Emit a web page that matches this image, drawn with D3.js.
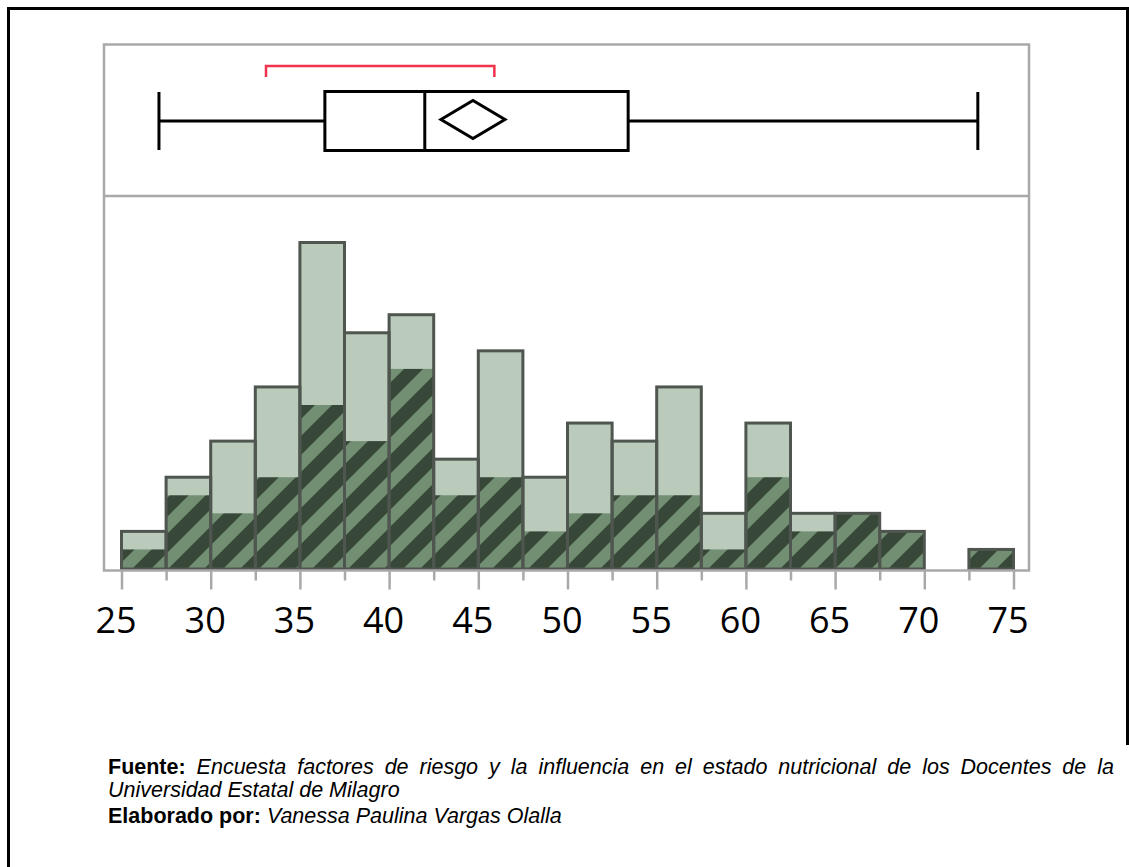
<!DOCTYPE html>
<html>
<head>
<meta charset="utf-8">
<script src="https://cdn.jsdelivr.net/npm/d3@7"></script>
<style>
  html, body { margin: 0; padding: 0; background: #fff; }
  svg { display: block; }
</style>
</head>
<body>
<svg id="chart" width="1129" height="867"></svg>
<script>
// ---- data ----
const binStarts = [25, 27.5, 30, 32.5, 35, 37.5, 40, 42.5, 45, 47.5, 50, 52.5, 55, 57.5, 60, 62.5, 65, 67.5, 70, 72.5];
const binWidth = 2.5;
const totalCounts  = [2, 5, 7, 10, 18, 13, 14, 6, 12, 5, 8, 7, 10, 3, 8, 3, 3, 2, 0, 1];
const subsetCounts = [1, 4, 3, 5, 9, 7, 11, 4, 5, 2, 3, 4, 4, 1, 5, 2, 3, 2, 0, 1];
const majorTicks = [25, 30, 35, 40, 45, 50, 55, 60, 65, 70, 75];
const minorTicks = [27.5, 32.5, 37.5, 42.5, 47.5, 52.5, 57.5, 62.5, 67.5, 72.5];
const boxStats = { min: 27.1, q1: 36.4, median: 42.0, mean: 44.7, q3: 53.4, max: 73.0 };
const shortestHalf = [33.1, 45.9];
const sourceLabel = "Fuente:";
const sourceText = ["Encuesta factores de riesgo y la influencia en el estado nutricional de los Docentes de la", "Universidad Estatal de Milagro"];
const authorLabel = "Elaborado por:";
const authorText = "Vanessa Paulina Vargas Olalla";

// ---- drawing ----
const svg = d3.select("#chart");
const frame = { left: 104, right: 1029, top: 44.5, divider: 196, bottom: 570.5 };

const x = d3.scaleLinear().domain([25, 75]).range([121.5, 1013.5]);
const y = d3.scaleLinear().domain([0, 18]).range([567.5, 242.5]);

// hatch pattern
const defs = svg.append("defs");
const pat = defs.append("pattern")
  .attr("id", "hatch").attr("patternUnits", "userSpaceOnUse")
  .attr("width", 36).attr("height", 36);
pat.append("rect").attr("width", 36).attr("height", 36).attr("fill", "#738f73");
pat.append("path")
  .attr("d", "M0,17 L17,0 L36,0 L0,36 Z M17,36 L36,17 L36,36 Z")
  .attr("fill", "#384838");

// outer page border
svg.append("path")
  .attr("d", "M8.5,867 V8.5 H1127.5 V745")
  .attr("fill", "none").attr("stroke", "#000").attr("stroke-width", 3);

// bars
const bars = svg.append("g");
binStarts.forEach((b, i) => {
  const x0 = x(b), x1 = x(b + binWidth);
  if (totalCounts[i] > 0) {
    bars.append("rect")
      .attr("x", x0).attr("y", y(totalCounts[i]))
      .attr("width", x1 - x0).attr("height", y(0) - y(totalCounts[i]) + 1.5)
      .attr("fill", "#bacbbb");
  }
  if (subsetCounts[i] > 0) {
    bars.append("rect")
      .attr("x", x0).attr("y", y(subsetCounts[i]))
      .attr("width", x1 - x0).attr("height", y(0) - y(subsetCounts[i]) + 1.5)
      .attr("fill", "url(#hatch)");
  }
});
binStarts.forEach((b, i) => {
  const x0 = x(b), x1 = x(b + binWidth);
  if (totalCounts[i] > 0) {
    bars.append("rect")
      .attr("x", x0).attr("y", y(totalCounts[i]))
      .attr("width", x1 - x0).attr("height", y(0) - y(totalCounts[i]) + 1.5)
      .attr("fill", "none").attr("stroke", "#4f564f").attr("stroke-width", 3);
  }
});

// frame
svg.append("rect")
  .attr("x", frame.left).attr("y", frame.top)
  .attr("width", frame.right - frame.left).attr("height", frame.bottom - frame.top)
  .attr("fill", "none").attr("stroke", "#a9a9a9").attr("stroke-width", 2.5);
svg.append("line")
  .attr("x1", frame.left).attr("x2", frame.right)
  .attr("y1", frame.divider).attr("y2", frame.divider)
  .attr("stroke", "#a9a9a9").attr("stroke-width", 2.5);

// axes
const axisMinor = d3.axisBottom(x).tickValues(minorTicks).tickSize(10).tickSizeOuter(0).tickFormat("");
const axisMajor = d3.axisBottom(x).tickValues(majorTicks).tickSize(19).tickSizeOuter(0).tickFormat(d3.format("d"));
const gMinor = svg.append("g").attr("transform", `translate(0,${frame.bottom})`).call(axisMinor);
const gMajor = svg.append("g").attr("transform", `translate(0,${frame.bottom})`).call(axisMajor);
[gMinor, gMajor].forEach(g => {
  g.select(".domain").remove();
  g.selectAll(".tick line").attr("stroke", "#a9a9a9").attr("stroke-width", 2.5);
});
gMajor.selectAll(".tick text")
  .attr("y", 62.5).attr("dy", 0).attr("dx", -6)
  .attr("fill", "#000")
  .style("font-family", "'Open Sans', 'Noto Sans', sans-serif")
  .style("font-weight", 400)
  .style("font-size", "36px");

// box plot
const bp = svg.append("g").attr("stroke", "#000").attr("stroke-width", 3).attr("fill", "none");
const yc = 121, boxTop = 91.5, boxBot = 150.5;
bp.append("line").attr("x1", x(boxStats.min)).attr("x2", x(boxStats.q1)).attr("y1", yc).attr("y2", yc);
bp.append("line").attr("x1", x(boxStats.q3)).attr("x2", x(boxStats.max)).attr("y1", yc).attr("y2", yc);
bp.append("line").attr("x1", x(boxStats.min)).attr("x2", x(boxStats.min)).attr("y1", 92).attr("y2", 150);
bp.append("line").attr("x1", x(boxStats.max)).attr("x2", x(boxStats.max)).attr("y1", 92).attr("y2", 150);
bp.append("rect").attr("x", x(boxStats.q1)).attr("y", boxTop)
  .attr("width", x(boxStats.q3) - x(boxStats.q1)).attr("height", boxBot - boxTop);
bp.append("line").attr("x1", x(boxStats.median)).attr("x2", x(boxStats.median)).attr("y1", boxTop).attr("y2", boxBot);
const mx = x(boxStats.mean), my = 119.5;
bp.append("path").attr("d", `M${mx - 32},${my} L${mx},${my - 19} L${mx + 32},${my} L${mx},${my + 19} Z`);
// shortest half bracket
svg.append("path")
  .attr("d", `M${x(shortestHalf[0])},77 V66 H${x(shortestHalf[1])} V77`)
  .attr("fill", "none").attr("stroke", "#f0334a").attr("stroke-width", 2.5);

// footer
const fx = 108, fRight = 1114;
function footerLine(yPos, label, text, justify) {
  const t = svg.append("text").attr("x", fx).attr("y", yPos)
    .style("font-family", "'Liberation Sans', Arial, sans-serif").style("font-size", "21.5px");
  if (label) t.append("tspan").attr("font-weight", "bold").text(label + " ");
  t.append("tspan").attr("font-style", "italic").text(text);
  if (justify) {
    const w = t.node().getComputedTextLength();
    const full = (label ? label + " " : "") + text;
    const spaces = (full.match(/ /g) || []).length;
    const extra = Math.max(0, (fRight - fx - w) / spaces);
    t.style("word-spacing", extra + "px");
  }
}
footerLine(774, sourceLabel, sourceText[0], true);
footerLine(797, null, sourceText[1], false);
footerLine(823, authorLabel, authorText, false);
</script>
</body>
</html>
